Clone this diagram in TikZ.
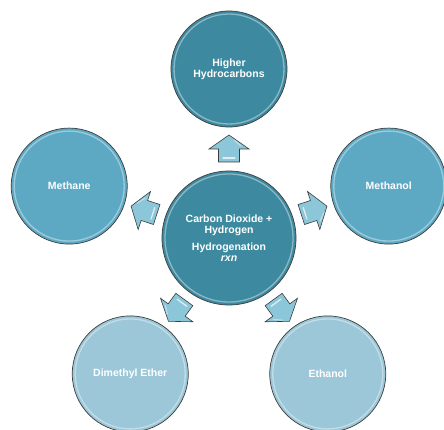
\documentclass[tikz,border=0pt]{standalone}
\usepackage{fontspec}
\setmainfont{Liberation Sans}
\usetikzlibrary{calc}

\definecolor{tealdark}{HTML}{3D8AA0}
\definecolor{tealmid}{HTML}{5DA9C4}
\definecolor{teallight}{HTML}{9BC7D8}
\definecolor{arrowfill}{HTML}{8CC6D9}
\definecolor{rimline}{HTML}{3C3C3C}

\tikzset{
  bubble/.style={circle, draw=rimline, line width=0.7pt, text=white,
    font=\bfseries\fontsize{10.5}{11}\selectfont, align=center, inner sep=0pt},
  hubbubble/.style={bubble, fill=tealdark, minimum size=134pt},
  darkbubble/.style={bubble, fill=tealdark, minimum size=116pt},
  midbubble/.style={bubble, fill=tealmid, minimum size=116pt},
  lightbubble/.style={bubble, fill=teallight, minimum size=116pt},
  rimglow/.style={draw=white, opacity=0.4, line width=1.3pt},
  blockarrow/.style={fill=arrowfill, draw=rimline, line width=0.6pt, line join=miter},
  arrowglint/.style={draw=white, opacity=0.7, line width=1.3pt, line cap=round}
}

% block arrow at position #1, pointing in direction #2
\newcommand\radialarrow[2]{%
  \begin{scope}[shift={#1}, rotate=#2]
    \filldraw[blockarrow] (-13,-10.5) -- (0,-10.5) -- (0,-20) -- (14,0) -- (0,20)
      -- (0,10.5) -- (-13,10.5) -- cycle;
    \draw[arrowglint] (-9,-6) -- (-9,6);
    \draw[arrowglint, opacity=0.4] (3,-12) -- (9,-5);
  \end{scope}}

\begin{document}
\begin{tikzpicture}[x=1pt, y=1pt]
  \useasboundingbox (0,0) rectangle (444,-430);

  \coordinate (c) at (229,-238);

  \node[hubbubble] (hub) at (c)
    {Carbon Dioxide +\\Hydrogen\\[6pt]Hydrogenation\\\textit{rxn}};

  \node[darkbubble]  (higher)   at ($(c)+(90:169)$)   {Higher\\Hydrocarbons};
  \node[midbubble]   (methanol) at ($(c)+(18:168)$)   {Methanol};
  \node[lightbubble] (ethanol)  at ($(c)+(-54:168)$)  {Ethanol};
  \node[lightbubble] (dme)      at ($(c)+(-126:168)$) {Dimethyl Ether};
  \node[midbubble]   (methane)  at ($(c)+(162:168)$)  {Methane};

  % soft inner rim on every bubble
  \foreach \b/\r in {hub/64, higher/55, methanol/55, ethanol/55, dme/55, methane/55}
    {\draw[rimglow] (\b.center) circle[radius=\r];}

  % block arrows from the hub towards each product
  \foreach \a in {90, 18, -54, -126, 162}
    {\radialarrow{($(c)+(\a:89)$)}{\a}}
\end{tikzpicture}
\end{document}
